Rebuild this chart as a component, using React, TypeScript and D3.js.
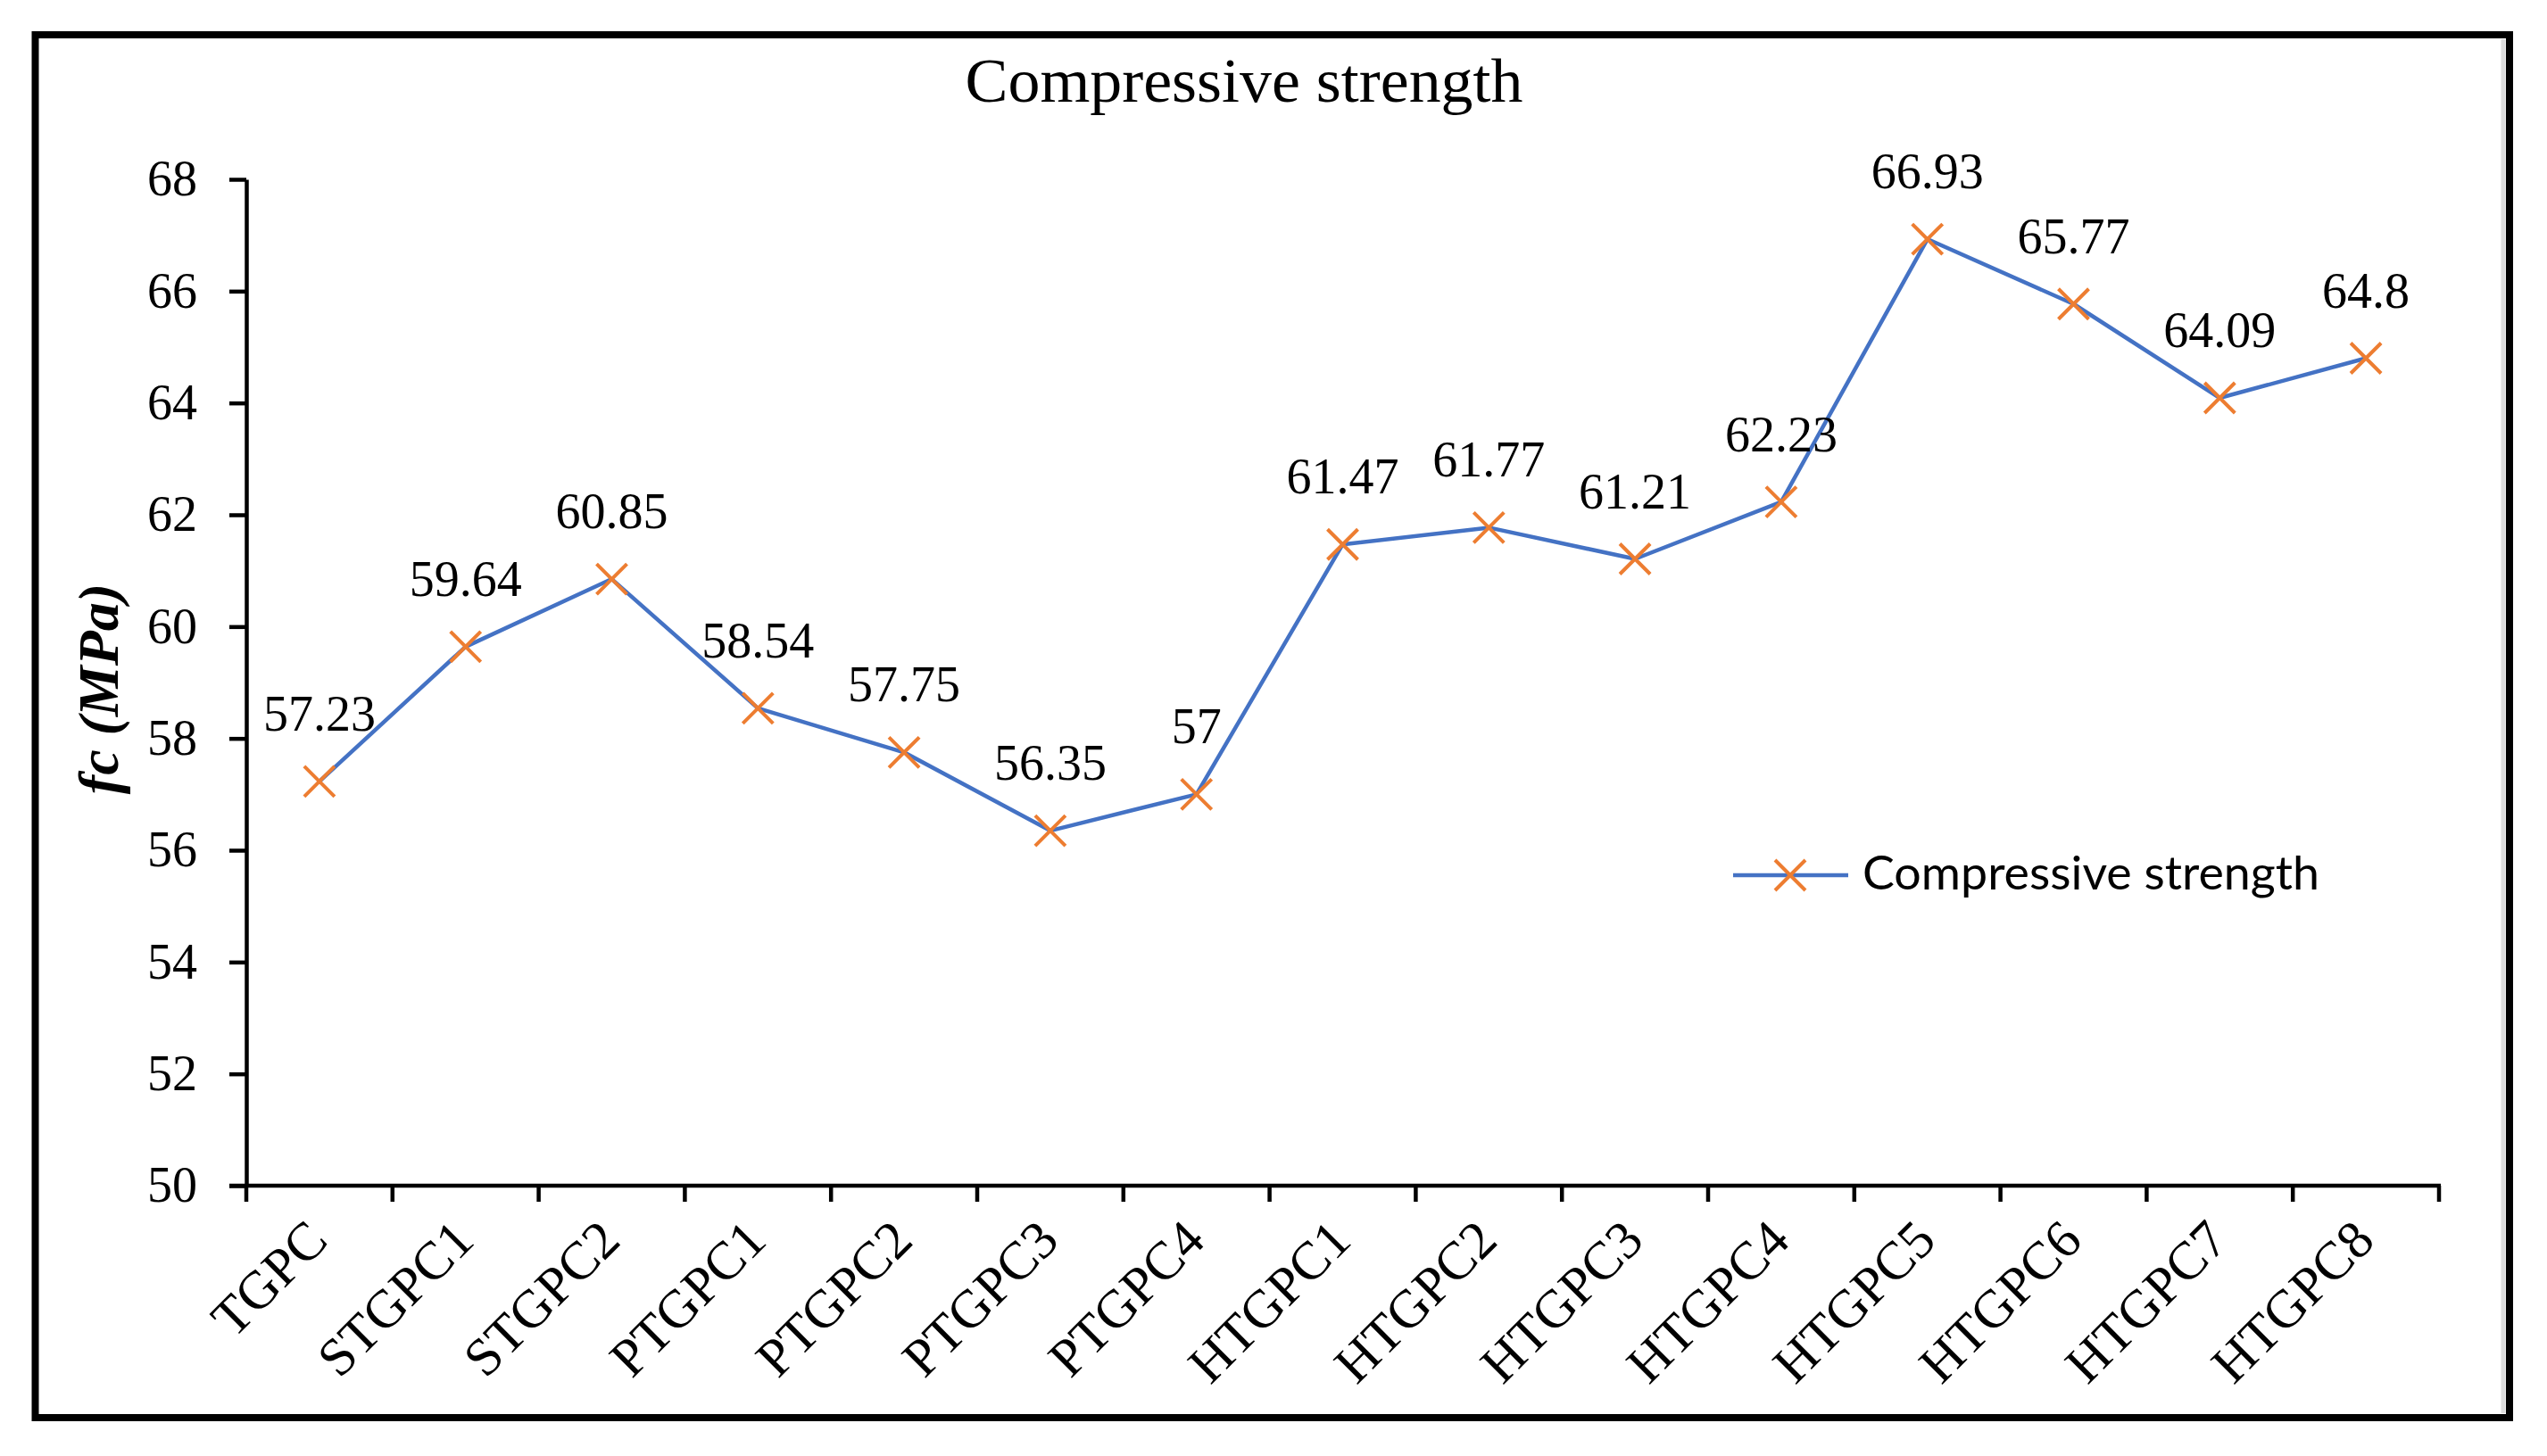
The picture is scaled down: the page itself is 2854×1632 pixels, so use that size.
import { useEffect, useRef } from "react";
import * as d3 from "d3";

// Chart data
const CATEGORIES = [
  "TGPC",
  "STGPC1",
  "STGPC2",
  "PTGPC1",
  "PTGPC2",
  "PTGPC3",
  "PTGPC4",
  "HTGPC1",
  "HTGPC2",
  "HTGPC3",
  "HTGPC4",
  "HTGPC5",
  "HTGPC6",
  "HTGPC7",
  "HTGPC8",
];
const STRENGTH = [
  57.23, 59.64, 60.85, 58.54, 57.75, 56.35, 57, 61.47, 61.77, 61.21, 62.23,
  66.93, 65.77, 64.09, 64.8,
];
const Y_TICKS = [50, 52, 54, 56, 58, 60, 62, 64, 66, 68];
const TITLE = "Compressive strength";
const SERIES_NAME = "Compressive strength";
const Y_LABEL = "fc (MPa)";

const WIDTH = 2854;
const HEIGHT = 1632;
const PLOT = { left: 276, right: 2733, top: 201, bottom: 1329 };

const SERIF = "'Liberation Serif', 'Times New Roman', serif";
const SANS = "Lato, 'Open Sans', sans-serif";
const LINE_COLOR = "#4472C4";
const MARKER_COLOR = "#ED7D31";

// draws an "x" marker centred on (0,0)
function crossPath(r: number) {
  return `M${-r},${-r}L${r},${r}M${-r},${r}L${r},${-r}`;
}

export default function App() {
  const svgRef = useRef<SVGSVGElement>(null);

  useEffect(() => {
    if (!svgRef.current) return;
    const svg = d3.select(svgRef.current);
    svg.selectAll("*").remove();

    svg.append("rect").attr("width", WIDTH).attr("height", HEIGHT).attr("fill", "#fff");

    // outer frame
    svg
      .append("rect")
      .attr("x", 39.5)
      .attr("y", 39)
      .attr("width", 2812 - 39.5)
      .attr("height", 1589 - 39)
      .attr("fill", "none")
      .attr("stroke", "#000")
      .attr("stroke-width", 8);
    svg
      .append("line")
      .attr("x1", 2805)
      .attr("x2", 2805)
      .attr("y1", 44)
      .attr("y2", 1584)
      .attr("stroke", "#dcdcdc")
      .attr("stroke-width", 5);

    const x = d3
      .scaleBand<string>()
      .domain(CATEGORIES)
      .range([PLOT.left, PLOT.right])
      .padding(0);
    const y = d3.scaleLinear().domain([50, 68]).range([PLOT.bottom, PLOT.top]);
    const cx = (i: number) => (x(CATEGORIES[i]) as number) + x.bandwidth() / 2;

    // Y axis
    const yAxis = svg
      .append("g")
      .attr("transform", `translate(${PLOT.left},0)`)
      .call(
        d3
          .axisLeft(y)
          .tickValues(Y_TICKS)
          .tickSize(19)
          .tickSizeOuter(0)
          .tickPadding(36)
          .tickFormat((d) => `${d}`)
      );
    yAxis.select(".domain").attr("stroke", "#000").attr("stroke-width", 4.5);
    yAxis.selectAll(".tick line").attr("stroke", "#000").attr("stroke-width", 4.5);
    yAxis
      .selectAll(".tick text")
      .attr("fill", "#000")
      .attr("font-family", SERIF)
      .attr("font-size", 56);

    // X axis: line and ticks at category boundaries
    const xAxis = svg.append("g");
    xAxis
      .append("line")
      .attr("x1", PLOT.left - 19)
      .attr("x2", PLOT.right + 2)
      .attr("y1", PLOT.bottom)
      .attr("y2", PLOT.bottom)
      .attr("stroke", "#000")
      .attr("stroke-width", 4.5);
    xAxis
      .selectAll("line.tick")
      .data(d3.range(CATEGORIES.length + 1))
      .join("line")
      .attr("class", "tick")
      .attr("x1", (i) => PLOT.left + i * x.step())
      .attr("x2", (i) => PLOT.left + i * x.step())
      .attr("y1", PLOT.bottom)
      .attr("y2", PLOT.bottom + 18)
      .attr("stroke", "#000")
      .attr("stroke-width", 4.5);
    xAxis
      .selectAll("text")
      .data(CATEGORIES)
      .join("text")
      .attr("transform", (_, i) => `translate(${cx(i) + 12},${PLOT.bottom + 64}) rotate(-45)`)
      .attr("text-anchor", "end")
      .attr("font-family", SERIF)
      .attr("font-size", 60)
      .attr("fill", "#000")
      .text((d) => d);

    // Y axis label
    svg
      .append("text")
      .attr("transform", "translate(132,772) rotate(-90)")
      .attr("text-anchor", "middle")
      .attr("font-family", SERIF)
      .attr("font-size", 64)
      .attr("font-weight", "bold")
      .attr("font-style", "italic")
      .attr("fill", "#000")
      .text(Y_LABEL);

    // Title
    svg
      .append("text")
      .attr("x", 1394)
      .attr("y", 114)
      .attr("text-anchor", "middle")
      .attr("font-family", SERIF)
      .attr("font-size", 70)
      .attr("textLength", 625)
      .attr("lengthAdjust", "spacingAndGlyphs")
      .attr("fill", "#000")
      .text(TITLE);

    // Series line
    const line = d3
      .line<number>()
      .x((_, i) => cx(i))
      .y((d) => y(d));
    svg
      .append("path")
      .datum(STRENGTH)
      .attr("d", line)
      .attr("fill", "none")
      .attr("stroke", LINE_COLOR)
      .attr("stroke-width", 4.5)
      .attr("stroke-linejoin", "round");

    // Markers
    svg
      .append("g")
      .selectAll("path")
      .data(STRENGTH)
      .join("path")
      .attr("transform", (d, i) => `translate(${cx(i)},${y(d)})`)
      .attr("d", crossPath(17))
      .attr("fill", "none")
      .attr("stroke", MARKER_COLOR)
      .attr("stroke-width", 4);

    // Data labels
    svg
      .append("g")
      .selectAll("text")
      .data(STRENGTH)
      .join("text")
      .attr("x", (_, i) => cx(i))
      .attr("y", (d) => y(d) - 57)
      .attr("text-anchor", "middle")
      .attr("font-family", SERIF)
      .attr("font-size", 56)
      .attr("fill", "#000")
      .text((d) => `${d}`);

    // Legend
    const legend = svg.append("g").attr("transform", "translate(1942,981)");
    legend
      .append("line")
      .attr("x1", 0)
      .attr("x2", 129)
      .attr("stroke", LINE_COLOR)
      .attr("stroke-width", 4.5);
    legend
      .append("path")
      .attr("transform", "translate(64,0)")
      .attr("d", crossPath(17))
      .attr("fill", "none")
      .attr("stroke", MARKER_COLOR)
      .attr("stroke-width", 4);
    legend
      .append("text")
      .attr("x", 145)
      .attr("y", 16)
      .attr("font-family", SANS)
      .attr("font-size", 52)
      .attr("textLength", 512)
      .attr("lengthAdjust", "spacingAndGlyphs")
      .attr("fill", "#000")
      .text(SERIES_NAME);
  }, []);

  return (
    <div style={{ position: "fixed", left: 0, top: 0 }}>
      <svg ref={svgRef} width={WIDTH} height={HEIGHT} style={{ display: "block" }} />
    </div>
  );
}
